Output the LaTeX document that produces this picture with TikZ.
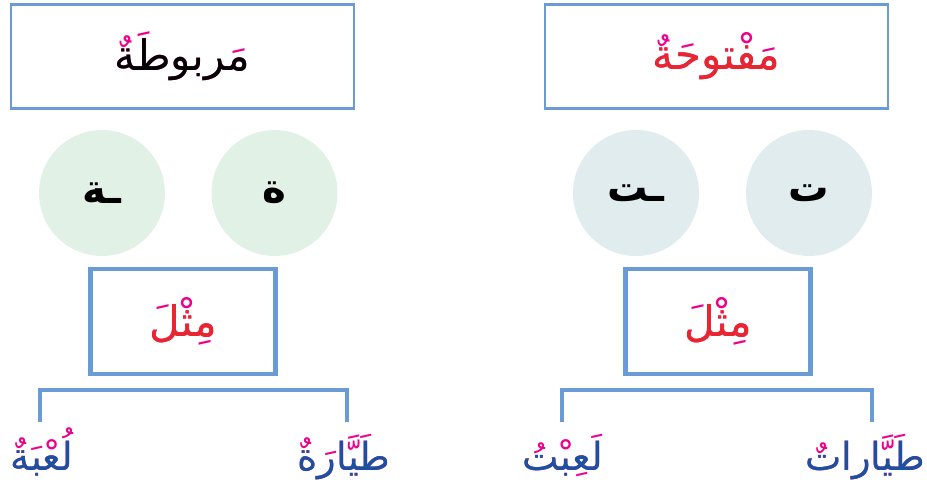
\documentclass[tikz,border=0pt]{standalone}
\usepackage{fontspec}
\usetikzlibrary{positioning}
\newfontfamily\arabicfont[Script=Arabic]{DejaVu Sans}
\TeXXeTstate=1
\definecolor{frameBlue}{RGB}{106, 155, 213}
\definecolor{textRed}{RGB}{232, 38, 46}
\definecolor{markPink}{RGB}{236, 0, 140}
\definecolor{wordBlue}{RGB}{24, 82, 160}
\definecolor{circGreen}{RGB}{225, 241, 230}
\definecolor{circGrey}{RGB}{225, 236, 238}

\begin{document}
\begin{tikzpicture}[
    x=0.02cm, y=-0.02cm,
    titleBox/.style={rectangle, draw=frameBlue, fill=white, line width=1.6pt, minimum width=6.86cm, minimum height=2.08cm},
    sampleBox/.style={rectangle, draw=frameBlue, fill=white, line width=2.4pt, minimum width=3.7cm, minimum height=2.1cm},
    letterDisc/.style={circle, draw=none, minimum size=2.52cm, inner sep=0pt, font=\arabicfont\bfseries\fontsize{23}{28}\selectfont},
    markText/.style={inner sep=0pt, text=markPink, font=\arabicfont\fontsize{24}{30}\selectfont},
    bareText/.style={inner sep=0pt, anchor=base, font=\arabicfont\fontsize{24}{30}\selectfont},
    markWord/.style={markText, anchor=base, font=\arabicfont\fontsize{22}{28}\selectfont},
    bareWord/.style={bareText, text=wordBlue, font=\arabicfont\fontsize{22}{28}\selectfont},
    bracket/.style={draw=frameBlue, line width=2.3pt}
  ]
    \useasboundingbox (0,0) rectangle (927,490);

    % left half: marbuta
    \node[titleBox] (boxL) at (182.5,56.5) {};
    \node[markText] (titleLmk) at (boxL) {\beginR مَربوطَةٌ\endR};
    \node[bareText, text=black] (titleL) at (titleLmk.base) {\beginR مربوطة\endR};

    \node[letterDisc, fill=circGreen] (discL1) at (102,193) {\beginR ـة\endR};
    \node[letterDisc, fill=circGreen] (discL2) at (274.5,193) {\beginR ة\endR};

    \node[sampleBox] (midL) at (183,321.5) {};
    \node[markText] (mithlLmk) at (midL) {\beginR مِثْلَ\endR};
    \node[bareText, text=textRed] (mithlL) at (mithlLmk.base) {\beginR مثل\endR};

    \node[markWord] (lubaLmk) at (42,470) {\beginR لُعْبَةٌ\endR};
    \node[bareWord] (lubaL) at (lubaLmk.base) {\beginR لعبة\endR};
    \node[markWord] (tayLmk) at (344,470) {\beginR طَيَّارَةٌ\endR};
    \node[bareWord] (tayL) at (tayLmk.base) {\beginR طيارة\endR};

    \coordinate (brL1) at (40,422);
    \coordinate (brL2) at (347,422);
    \coordinate (barL) at (0,390);
    \draw[bracket] (brL1) -- (brL1 |- barL) -- (brL2 |- barL) -- (brL2);

    % right half: maftuha
    \node[titleBox] (boxR) at (716.5,56.5) {};
    \node[markText] (titleRmk) at (boxR) {\beginR مَفْتوحَةٌ\endR};
    \node[bareText, text=textRed] (titleR) at (titleRmk.base) {\beginR مفتوحة\endR};

    \node[letterDisc, fill=circGrey] (discR1) at (636,193) {\beginR ـت\endR};
    \node[letterDisc, fill=circGrey] (discR2) at (809,193) {\beginR ت\endR};

    \node[sampleBox] (midR) at (718,321.5) {};
    \node[markText] (mithlRmk) at (midR) {\beginR مِثْلَ\endR};
    \node[bareText, text=textRed] (mithlR) at (mithlRmk.base) {\beginR مثل\endR};

    \node[markWord] (labaRmk) at (563,470) {\beginR لَعِبْتُ\endR};
    \node[bareWord] (labaR) at (labaRmk.base) {\beginR لعبت\endR};
    \node[markWord] (tayRmk) at (865,470) {\beginR طَيَّاراتٌ\endR};
    \node[bareWord] (tayR) at (tayRmk.base) {\beginR طيارات\endR};

    \coordinate (brR1) at (562,422);
    \coordinate (brR2) at (872,422);
    \coordinate (barR) at (0,390);
    \draw[bracket] (brR1) -- (brR1 |- barR) -- (brR2 |- barR) -- (brR2);
\end{tikzpicture}
\end{document}
